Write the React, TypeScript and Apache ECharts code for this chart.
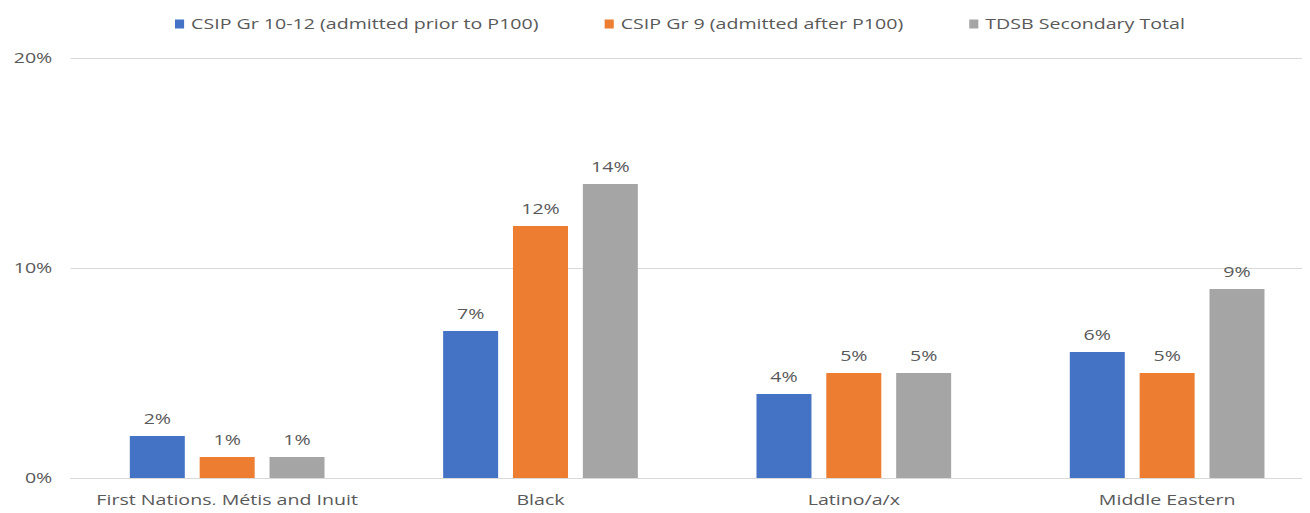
import React, { useEffect, useRef } from "react";
import * as echarts from "echarts";

const categories = ["First Nations, Métis and Inuit", "Black", "Latino/a/x", "Middle Eastern"];
const seriesNames = [
  "CSIP Gr 10-12 (admitted prior to P100)",
  "CSIP Gr 9 (admitted after P100)",
  "TDSB Secondary Total",
];
const gr1012 = [2, 7, 4, 6];
const gr9 = [1, 12, 5, 5];
const tdsb = [1, 14, 5, 9];
const yTicks = [0, 10, 20];
const colors = ["#4472C4", "#ED7D31", "#A5A5A5"];

const FONT = "'Open Sans', 'Liberation Sans', sans-serif";
// The reference picture is stretched horizontally; reproduce by scaling the chart.
const SX = 1.4;
const OUTER = 1340; // chart drawn a bit wider than the page; the overflow is clipped
const W = OUTER / SX;

export default function App() {
  const ref = useRef<HTMLDivElement>(null);
  useEffect(() => {
    if (!ref.current) return;
    const chart = echarts.init(ref.current, null, { renderer: "svg" });
    const data = [gr1012, gr9, tdsb];
    chart.setOption({
      animation: false,
      textStyle: { fontFamily: FONT },
      legend: {
        top: 12,
        left: 120,
        itemWidth: 6.5,
        itemHeight: 9,
        itemGap: 47,
        icon: "rect",
        textStyle: { color: "#595959", fontSize: 14, fontFamily: FONT },
        data: seriesNames,
      },
      grid: { left: 70.5 / SX, right: (OUTER - 1324) / SX, top: 58, bottom: 35, containLabel: false },
      xAxis: {
        type: "category",
        data: categories,
        axisTick: { show: false },
        axisLine: { lineStyle: { color: "#D9D9D9" } },
        axisLabel: { color: "#595959", fontSize: 14, margin: 15, interval: 0, fontFamily: FONT },
      },
      yAxis: {
        type: "value",
        min: yTicks[0],
        max: yTicks[yTicks.length - 1],
        interval: yTicks[1] - yTicks[0],
        axisLabel: { formatter: "{value}%", color: "#595959", fontSize: 14, margin: 13, fontFamily: FONT },
        splitLine: { lineStyle: { color: "#D9D9D9" } },
        axisLine: { show: false },
        axisTick: { show: false },
      },
      series: seriesNames.map((name, i) => ({
        name,
        type: "bar",
        data: data[i],
        barWidth: 55 / SX,
        barGap: "27%",
        itemStyle: { color: colors[i] },
        label: {
          show: true,
          position: "top",
          distance: 10,
          formatter: "{c}%",
          color: "#595959",
          fontSize: 14,
          fontFamily: FONT,
        },
      })),
    });
    return () => chart.dispose();
  }, []);
  return (
    <div style={{ width: 1310, height: 513, margin: -8, overflow: "hidden" }}>
      <div
        ref={ref}
        style={{ width: W, height: 513, transform: `scaleX(${SX})`, transformOrigin: "0 0" }}
      />
    </div>
  );
}
